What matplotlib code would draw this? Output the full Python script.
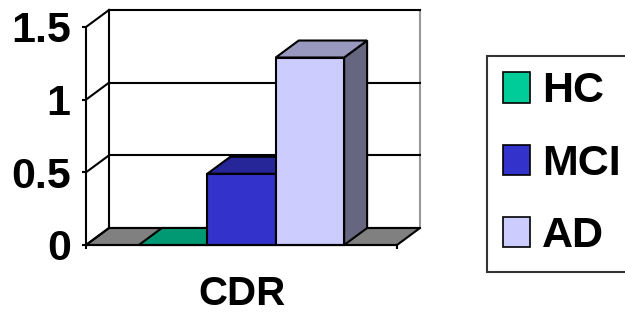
import matplotlib
matplotlib.use('Agg')
import matplotlib.pyplot as plt
from matplotlib.patches import Polygon, Patch

plt.rcParams['font.family'] = ['Liberation Sans', 'DejaVu Sans']
plt.rcParams['font.weight'] = 'bold'

# data
groups = ['HC', 'MCI', 'AD']
values = [0.0, 0.49, 1.29]
colors = ['#00CC99', '#3333CC', '#CCCCFF']
top_colors = ['#009973', '#262699', '#9999BF']
side_colors = ['#006650', '#1A1A66', '#666680']
yticks = [0, 0.5, 1, 1.5]
ylabels = ['0', '0.5', '1', '1.5']

W, H = 625, 315
fig = plt.figure(figsize=(W / 100, H / 100), dpi=100)
ax = fig.add_axes([86 / W, (H - 245) / H, 311 / W, 218 / H])
ax.set_xlim(0, 1)
ax.set_ylim(0, 1.5)

# depth offset (in data units)
dx, dy = 23 / 311, 17 / 218 * 1.5
lw = 1.5

# floor
ax.add_patch(Polygon([(0, 0), (1, 0), (1 + dx, dy), (dx, dy)], closed=True,
                     facecolor='#808080', edgecolor='black', lw=lw, clip_on=False, zorder=1))
# back wall lines
ax.plot([dx, dx], [dy, 1.5 + dy], color='black', lw=lw, clip_on=False, zorder=1)
ax.plot([1 + dx, 1 + dx], [dy, 1.5 + dy], color='#999999', lw=lw, clip_on=False, zorder=1)
for t in yticks:
    ax.plot([0, dx], [t, t + dy], color='black', lw=lw, clip_on=False, zorder=1)
    ax.plot([dx, 1 + dx], [t + dy, t + dy], color='black', lw=lw, clip_on=False, zorder=1)

# bars
bw = 0.22
x0 = 0.5 - bw * len(groups) / 2
for i, v in enumerate(values):
    xl = x0 + i * bw
    xr = xl + bw
    kw = dict(closed=True, edgecolor='black', lw=lw, clip_on=False, zorder=2 + i)
    ax.add_patch(Polygon([(xr, 0), (xr + dx, dy), (xr + dx, v + dy), (xr, v)],
                         facecolor=side_colors[i], **kw))
    ax.add_patch(Polygon([(xl, v), (xr, v), (xr + dx, v + dy), (xl + dx, v + dy)],
                         facecolor=top_colors[i], **kw))
    if v > 0:
        ax.add_patch(Polygon([(xl, 0), (xr, 0), (xr, v), (xl, v)],
                             facecolor=colors[i], **kw))

for s in ['top', 'right']:
    ax.spines[s].set_visible(False)
for s in ['left', 'bottom']:
    ax.spines[s].set_linewidth(lw)
    ax.spines[s].set_zorder(10)
ax.set_facecolor('none')
ax.set_yticks(yticks)
ax.set_yticklabels(ylabels, fontsize=31, fontweight='bold')
ax.set_xticks([0, 1])
ax.set_xticklabels([])
ax.tick_params(length=3, width=lw)
ax.tick_params(axis='y', pad=8)
ax.set_xlabel('CDR', fontsize=29, fontweight='bold', labelpad=15)

handles = [Patch(facecolor=c, edgecolor='black', lw=1.2) for c in colors]
leg = fig.legend(handles, groups, loc='upper left',
                 bbox_to_anchor=(487 / W, 1 - 56 / H), frameon=True, fancybox=False,
                 prop={'size': 31, 'weight': 'bold'}, handlelength=0.63, handleheight=0.7,
                 handletextpad=0.28, labelspacing=0.75, borderpad=0.36, borderaxespad=0)
leg.get_frame().set_edgecolor('black')
leg.get_frame().set_linewidth(lw)

fig.savefig('out.png', dpi=100)
